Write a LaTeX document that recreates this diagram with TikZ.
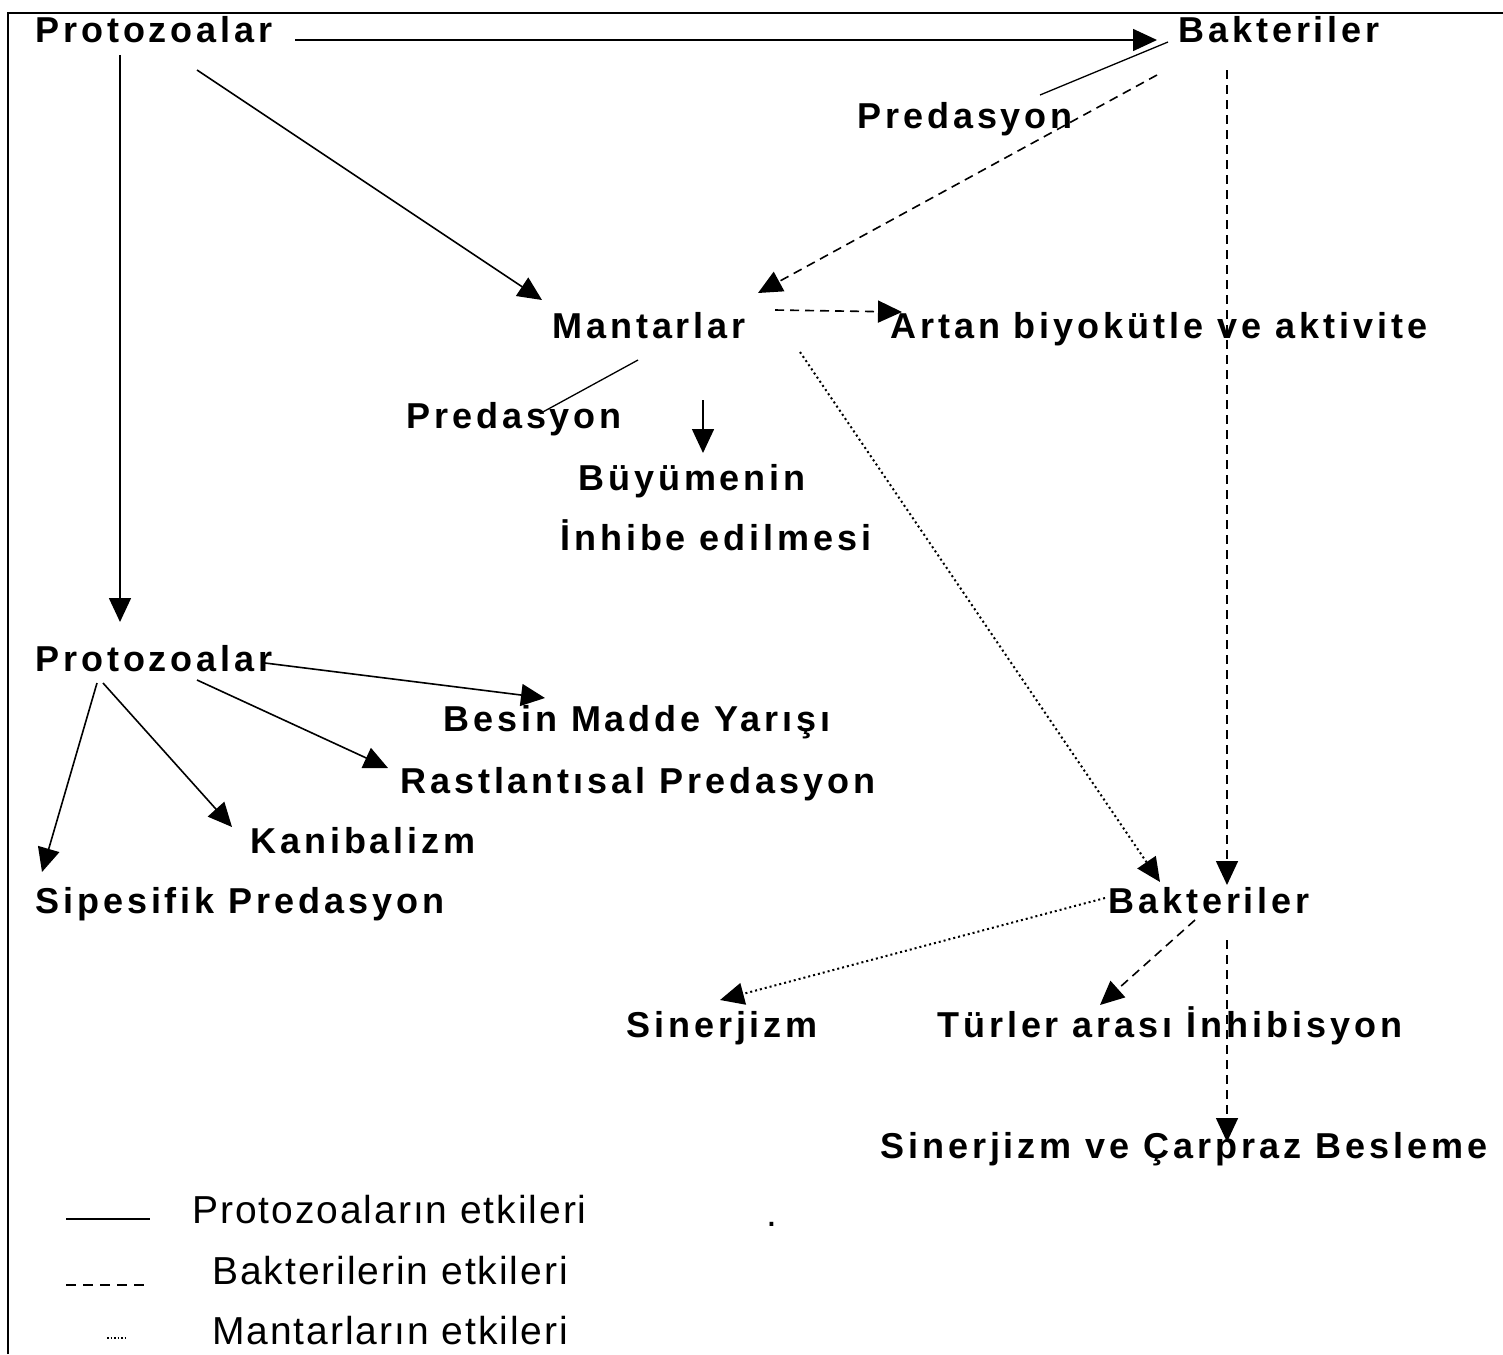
\documentclass[tikz,border=0pt]{standalone}
\usepackage{fontspec}
\setmainfont{Liberation Sans}
\newfontfamily\bfont{Liberation Sans Bold}[LetterSpace=11]
\newfontfamily\rfont{Liberation Sans}[LetterSpace=5]
\usetikzlibrary{arrows.meta,calc}
\begin{document}
\begin{tikzpicture}[x=1pt,y=-1pt,
  lbl/.style={font=\bfont\fontsize{36}{40}\selectfont, inner sep=0pt, anchor=base west},
  leg/.style={font=\rfont\fontsize{39}{44}\selectfont, inner sep=0pt, anchor=base west},
  con/.style={line width=1.6pt},
  arr/.style={con,-{Triangle[length=24pt,width=22pt]}},
  dsh/.style={dash pattern=on 9pt off 6pt},
  dot/.style={line width=2pt,dash pattern=on 2pt off 3pt}]
\useasboundingbox (0,0) rectangle (1503,1354);
\fill[white] (0,0) rectangle (1503,1354);
\draw[line width=2.5pt] (8,1354) -- (8,13) -- (1503,13);

% nodes
\node[lbl] (PT) at (35,43) {Protozoalar};
\node[lbl] (BT) at (1178,43) {Bakteriler};
\node[lbl] (PU) at (857,128) {Predasyon};
\node[lbl] (MA) at (552,338) {Mantarlar};
\node[lbl] (AR) at (890,338) {Artan biyokütle ve aktivite};
\node[lbl] (PM) at (406,428) {Predasyon};
\node[lbl] (BU) at (578,490) {Büyümenin};
\node[lbl] (IN) at (560,550) {İnhibe edilmesi};
\node[lbl] (PR) at (35,671) {Protozoalar};
\node[lbl] (BE) at (443,731) {Besin Madde Yarışı};
\node[lbl] (RA) at (400,793) {Rastlantısal Predasyon};
\node[lbl] (KA) at (250,853) {Kanibalizm};
\node[lbl] (SI) at (35,913) {Sipesifik Predasyon};
\node[lbl] (BL) at (1108,913) {Bakteriler};
\node[lbl] (SN) at (626,1037) {Sinerjizm};
\node[lbl] (TU) at (937,1037) {Türler arası İnhibisyon};
\node[lbl] (SC) at (880,1158) {Sinerjizm ve Çarpraz Besleme};

% legend
\node[leg] (LP) at (192,1223) {Protozoaların etkileri};
\node[leg] (LB) at (212,1284) {Bakterilerin etkileri};
\node[leg] (LM) at (212,1344) {Mantarların etkileri};
\node[leg] (LD) at (766,1226) {.};
\draw[line width=2pt] ($(LP.base west)+(-126,-4)$) -- ($(LP.base west)+(-42,-4)$);
\draw[line width=2pt,dash pattern=on 10pt off 7pt] ($(LB.base west)+(-146,1)$) -- ($(LB.base west)+(-62,1)$);
\draw[line width=1.5pt,dash pattern=on 1.5pt off 2pt] ($(LM.base west)+(-105,-6)$) -- ($(LM.base west)+(-87,-6)$);

% protozoa effects (solid)
\draw[arr] ($(PT.base west)+(260,-3)$) -- ($(BT.base west)+(-21,-3)$);
\draw[arr] ($(PT.base west)+(85,12)$) -- ($(PR.base west)+(85,-49)$);
\draw[arr] ($(PT.base west)+(162,27)$) -- ($(MA.base west)+(-10,-38)$);
\draw[con,line width=1.3pt] ($(PU.base west)+(183,-33)$) -- ($(BT.base west)+(-10,-1)$);
\draw[arr] ($(PR.base west)+(230,-8)$) -- ($(BE.base west)+(102,-33)$);
\draw[arr] ($(PR.base west)+(162,9)$) -- ($(RA.base west)+(-12,-25)$);
\draw[arr] ($(PR.base west)+(68,12)$) -- ($(KA.base west)+(-18,-26)$);
\draw[arr] ($(PR.base west)+(62,12)$) -- ($(SI.base west)+(7,-41)$);
\draw[con,line width=1.3pt] ($(MA.base west)+(86,22)$) -- ($(PM.base west)+(135,-15)$);
\draw[arr] ($(MA.base west)+(151,62)$) -- ($(BU.base west)+(125,-37)$);

% bacteria effects (dashed)
\draw[arr,dsh] ($(BT.base west)+(-21,32)$) -- ($(MA.base west)+(206,-45)$);
\draw[arr,dsh] ($(MA.base west)+(223,-28)$) -- ($(AR.base west)+(12,-26)$);
\draw[arr,dsh] ($(BT.base west)+(49,27)$) -- ($(BL.base west)+(119,-28)$);
\draw[arr,dsh] ($(BL.base west)+(87,7)$) -- ($(TU.base west)+(163,-32)$);
\draw[arr,dsh] ($(BL.base west)+(119,27)$) -- ($(SC.base west)+(347,-16)$);

% fungi effects (dotted)
\draw[arr,dot] ($(MA.base west)+(248,14)$) -- ($(BL.base west)+(52,-31)$);
\draw[arr,dot] ($(BL.base west)+(-3,-15)$) -- ($(SN.base west)+(94,-37)$);
\end{tikzpicture}
\end{document}
